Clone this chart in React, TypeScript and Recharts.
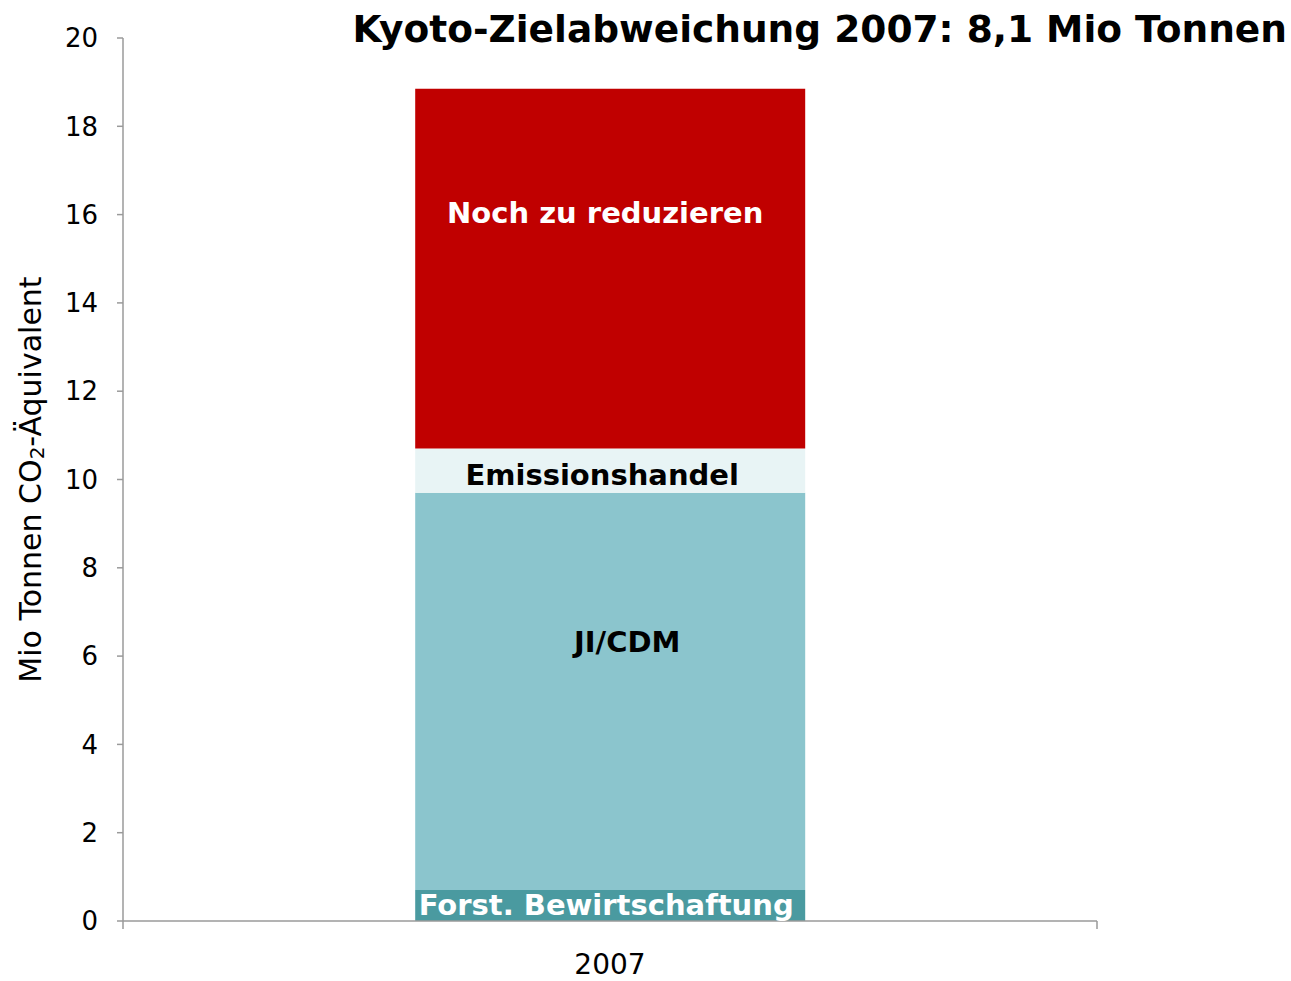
import React from 'react';
import { BarChart, Bar, XAxis, YAxis, LabelList } from 'recharts';

const years = ['2007'];
const forst = [0.7];
const jiCdm = [9.0];
const emissionshandel = [1.0];
const nochZuReduzieren = [8.15];
const yTicks = [0, 2, 4, 6, 8, 10, 12, 14, 16, 18, 20];

const data = years.map((year, i) => ({
  year,
  forst: forst[i],
  ji: jiCdm[i],
  emis: emissionshandel[i],
  noch: nochZuReduzieren[i],
}));

const FONT = '"DejaVu Sans", Verdana, sans-serif';
const AXIS = '#9a9a9a';
const X_TICK_SIZE = 6;
const X_TICK_MARGIN = 27;

// label inside a stack segment, shifted from the segment centre
const segmentLabel = (text: string, color: string, dx: number, dy: number) => (props: any) => {
  const vb = props.viewBox || {};
  const x = props.x ?? vb.x;
  const y = props.y ?? vb.y;
  const w = props.width ?? vb.width;
  const h = props.height ?? vb.height;
  return (
    <text
      x={x + w / 2 + dx}
      y={y + h / 2 + dy}
      textAnchor="middle"
      fill={color}
      fontFamily={FONT}
      fontWeight="bold"
      fontSize={29}
    >
      {text}
    </text>
  );
};

// category label + tick marks on the band edges (Excel style)
const YearTick = (props: any) => {
  const { x, y, payload } = props;
  const half = payload.offset || 0;
  const axisY = y - X_TICK_SIZE - X_TICK_MARGIN;
  return (
    <g>
      <line x1={x - half} x2={x - half} y1={axisY} y2={axisY + 8} stroke={AXIS} strokeWidth={1.5} />
      <line x1={x + half} x2={x + half} y1={axisY} y2={axisY + 8} stroke={AXIS} strokeWidth={1.5} />
      <text x={x} y={y} dy="0.71em" textAnchor="middle" fill="#000" fontFamily={FONT} fontSize={28}>
        {payload.value}
      </text>
    </g>
  );
};

const YTitle = (props: any) => {
  const vb = props.viewBox || {};
  const cx = 30;
  const cy = vb.y + vb.height / 2;
  return (
    <text
      x={cx}
      y={cy}
      transform={`rotate(-90, ${cx}, ${cy})`}
      textAnchor="middle"
      dominantBaseline="central"
      fontFamily={FONT}
      fontSize={30}
      fill="#000"
    >
      Mio Tonnen CO
      <tspan dy={7} fontSize={20}>2</tspan>
      <tspan dy={-7}>-Äquivalent</tspan>
    </text>
  );
};

export default function App() {
  return (
    <div style={{ position: 'absolute', left: 0, top: 0, width: 1291, height: 981, background: '#fff' }}>
      <div
        style={{
          position: 'absolute',
          right: 4,
          top: 11,
          fontFamily: FONT,
          fontWeight: 'bold',
          fontSize: 37.5,
          lineHeight: 1,
          whiteSpace: 'nowrap',
          color: '#000',
        }}
      >
        Kyoto-Zielabweichung 2007: 8,1 Mio Tonnen
      </div>
      <BarChart
        width={1291}
        height={981}
        data={data}
        margin={{ top: 38, right: 194, bottom: 0, left: 0 }}
        barCategoryGap="30%"
      >
        <XAxis
          dataKey="year"
          height={60}
          tickLine={false}
          tickSize={X_TICK_SIZE}
          tickMargin={X_TICK_MARGIN}
          axisLine={{ stroke: AXIS, strokeWidth: 1.5 }}
          tick={<YearTick />}
        />
        <YAxis
          width={123}
          domain={[0, 20]}
          ticks={yTicks}
          tickSize={6}
          tickMargin={19}
          axisLine={{ stroke: AXIS, strokeWidth: 1.5 }}
          tickLine={{ stroke: AXIS, strokeWidth: 1.5 }}
          tick={{ fill: '#000', fontSize: 26, fontFamily: FONT }}
          label={<YTitle />}
        />
        <Bar dataKey="forst" stackId="a" fill="#4a9aa0" isAnimationActive={false}>
          <LabelList dataKey="forst" content={segmentLabel('Forst. Bewirtschaftung', '#fff', -4, 9)} />
        </Bar>
        <Bar dataKey="ji" stackId="a" fill="#8bc5cd" isAnimationActive={false}>
          <LabelList dataKey="ji" content={segmentLabel('JI/CDM', '#000', 17, -39)} />
        </Bar>
        <Bar dataKey="emis" stackId="a" fill="#e8f4f5" isAnimationActive={false}>
          <LabelList dataKey="emis" content={segmentLabel('Emissionshandel', '#000', -8, 14)} />
        </Bar>
        <Bar dataKey="noch" stackId="a" fill="#c00000" isAnimationActive={false}>
          <LabelList dataKey="noch" content={segmentLabel('Noch zu reduzieren', '#fff', -5, -46)} />
        </Bar>
      </BarChart>
    </div>
  );
}
